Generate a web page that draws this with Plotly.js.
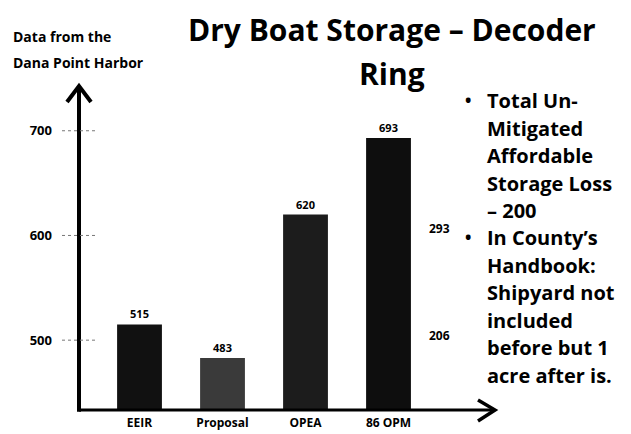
<!DOCTYPE html>
<html>
<head>
<meta charset="utf-8">
<script src="https://cdn.plot.ly/plotly-3.0.1.min.js"></script>
<style>html,body{margin:0;padding:0;background:#fff;}#chart{width:631px;height:434px;}</style>
</head>
<body>
<div id="chart"></div>
<script>
// ---- data ----
var categories = ["EEIR", "Proposal", "OPEA", "86 OPM"];
var values = [515, 483, 620, 693];
var barColors = ["#111111", "#3a3a3a", "#1c1c1c", "#0e0e0e"];
var tickValues = [500, 600, 700];
var tickLabels = ["500", "600", "700"];
var sideLabels = ["293", "206"];
var sideValues = [607, 504];
var titleLines = ["Dry Boat Storage – Decoder", "Ring"];
var axisTitleLines = ["Data from the", "Dana Point Harbor"];
var noteLines = [
  {t: "Total Un-", bullet: true},
  {t: "Mitigated"},
  {t: "Affordable"},
  {t: "Storage Loss"},
  {t: "– 200"},
  {t: "In County’s", bullet: true},
  {t: "Handbook:"},
  {t: "Shipyard not"},
  {t: "included"},
  {t: "before but 1"},
  {t: "acre after is."}
];

// ---- layout helpers (pixel -> paper) ----
var L = 79, R = 495, T = 85, B = 410;
function px(x) { return (x - L) / (R - L); }
function py(y) { return (B - y) / (B - T); }
var FONT = "Open Sans, Lato, sans-serif";

var shapes = [];
// axis lines
shapes.push({type: "line", xref: "paper", yref: "paper", x0: 0, x1: px(493), y0: 0, y1: 0, line: {color: "#000", width: 3}});
shapes.push({type: "line", xref: "paper", yref: "paper", x0: 0, x1: 0, y0: -0.005, y1: py(87), line: {color: "#000", width: 4}});
// arrow chevrons
shapes.push({type: "path", xref: "paper", yref: "paper",
  path: "M " + px(67) + " " + py(102) + " L " + px(79) + " " + py(86) + " L " + px(91) + " " + py(102),
  line: {color: "#000", width: 4}});
shapes.push({type: "path", xref: "paper", yref: "paper",
  path: "M " + px(478) + " " + py(400) + " L " + px(495) + " " + py(410) + " L " + px(478) + " " + py(421),
  line: {color: "#000", width: 3.5}});
// tick marks crossing the axis
tickValues.forEach(function (v) {
  shapes.push({type: "line", xref: "paper", yref: "y", x0: px(62), x1: px(96), y0: v, y1: v,
    line: {color: "#777", width: 1, dash: "dot"}});
});

var annotations = [];
// title lines
titleLines.forEach(function (s, i) {
  annotations.push({xref: "paper", yref: "paper", x: px(392), y: py(29 + i * 44), xanchor: "center", yanchor: "middle",
    text: "<b>" + s + "</b>", showarrow: false, font: {family: FONT, size: 30, color: "#000"}});
});
// axis title (top-left)
axisTitleLines.forEach(function (s, i) {
  annotations.push({xref: "paper", yref: "paper", x: px(11), y: py(37 + i * 26), xanchor: "left", yanchor: "middle",
    text: "<b>" + s + "</b>", showarrow: false, font: {family: FONT, size: 14, color: "#000"}});
});
// side labels
sideLabels.forEach(function (s, i) {
  annotations.push({xref: "x", yref: "y", x: 3.62, y: sideValues[i], xanchor: "center", yanchor: "middle",
    text: "<b>" + s + "</b>", showarrow: false, font: {family: FONT, size: 12, color: "#000"}});
});
// notes on the right
noteLines.forEach(function (o, i) {
  var yy = 101 + i * 27.4;
  annotations.push({xref: "paper", yref: "paper", x: px(485), y: py(yy), xanchor: "left", yanchor: "middle",
    text: "<b>" + o.t + "</b>", showarrow: false, font: {family: FONT, size: 20, color: "#000"}});
  if (o.bullet) {
    annotations.push({xref: "paper", yref: "paper", x: px(468), y: py(yy), xanchor: "center", yanchor: "middle",
      text: "<b>•</b>", showarrow: false, font: {family: FONT, size: 17, color: "#000"}});
  }
});

var trace = {
  type: "bar",
  x: categories,
  y: values,
  marker: {color: barColors, line: {width: 0}},
  width: 0.54,
  text: values.map(String),
  textposition: "outside",
  textfont: {family: FONT, size: 11, color: "#000", weight: "bold"},
  cliponaxis: false,
  hoverinfo: "none"
};

var layout = {
  width: 631, height: 434,
  margin: {l: L, r: 631 - R, t: T, b: 434 - B, pad: 0},
  paper_bgcolor: "#fff", plot_bgcolor: "#fff",
  showlegend: false,
  xaxis: {
    type: "category", range: [-0.729, 4.283], showline: false, showgrid: false, zeroline: false,
    ticks: "", tickfont: {family: FONT, size: 12, color: "#000", weight: "bold"}, ticklabelstandoff: 4
  },
  yaxis: {
    range: [433.3, 743.7], showline: false, showgrid: false, zeroline: false,
    tickvals: tickValues, ticktext: tickLabels, ticks: "",
    tickfont: {family: FONT, size: 13, color: "#000", weight: "bold"}, ticklabelstandoff: 26
  },
  shapes: shapes,
  annotations: annotations
};

Plotly.newPlot("chart", [trace], layout, {displayModeBar: false, staticPlot: true});
</script>
</body>
</html>
